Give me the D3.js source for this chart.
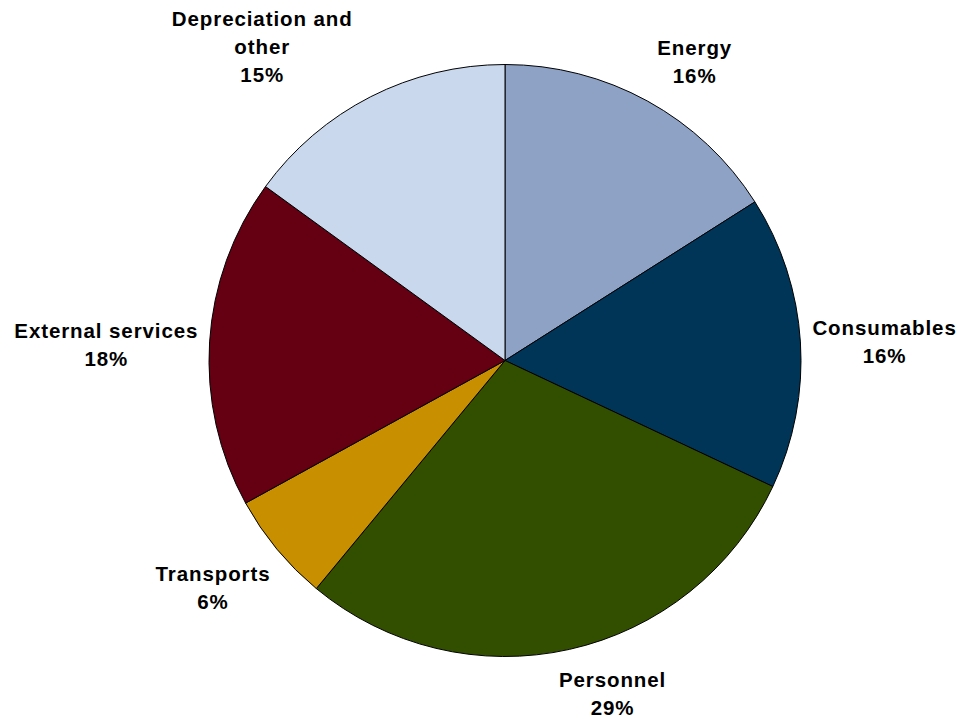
<!DOCTYPE html>
<html><head><meta charset="utf-8">
<script src="https://cdn.jsdelivr.net/npm/d3@7"></script>
<style>html,body{margin:0;padding:0;background:#fff;}</style>
</head><body>
<svg id="chart" width="958" height="719"></svg>
<script>
const categories = ["Energy", "Consumables", "Personnel", "Transports", "External services", "Depreciation and other"];
const values = [16, 16, 29, 6, 18, 15];
const colors = ["#8EA2C6", "#003558", "#324F00", "#C89000", "#650012", "#CAD8EE"];
const labelLines = [["Energy"], ["Consumables"], ["Personnel"], ["Transports"], ["External services"], ["Depreciation and", "other"]];

const W = 958, H = 719;
const cx = 505, cy = 360.5, R = 296;
// label layout: angular shift (deg) from slice mid-angle and distance from pie centre
const labelShift = [3.6, 0.8, -5.3, 1.7, -1.3, -10.7];
const labelDist = [354, 380, 350, 370, 399, 397];

const svg = d3.select("#chart");
const g = svg.append("g").attr("transform", `translate(${cx},${cy})`);
const pie = d3.pie().sort(null).value(d => d)(values);
const arc = d3.arc().innerRadius(0).outerRadius(R);

g.selectAll("path").data(pie).join("path")
  .attr("d", arc)
  .attr("fill", (d, i) => colors[i])
  .attr("stroke", "#000").attr("stroke-width", 1);

const total = d3.sum(values);
const lh = 28;
pie.forEach((d, i) => {
  const lines = labelLines[i].concat([Math.round(values[i] / total * 100) + "%"]);
  const t = g.append("text")
    .attr("text-anchor", "middle")
    .attr("font-family", "Liberation Sans, Arial, sans-serif")
    .attr("font-weight", "bold").attr("font-size", 20.5)
    .attr("letter-spacing", 0.9)
    .attr("fill", "#000");
  lines.forEach((l, j) => t.append("tspan").attr("x", 0).attr("y", j * lh).text(l));
  const bb = t.node().getBBox();
  const a = (d.startAngle + d.endAngle) / 2 + labelShift[i] * Math.PI / 180;
  const bxc = labelDist[i] * Math.sin(a);
  const byc = -labelDist[i] * Math.cos(a);
  t.attr("transform", `translate(${bxc - (bb.x + bb.width / 2)},${byc - (bb.y + bb.height / 2)})`);
});
</script>
</body></html>
